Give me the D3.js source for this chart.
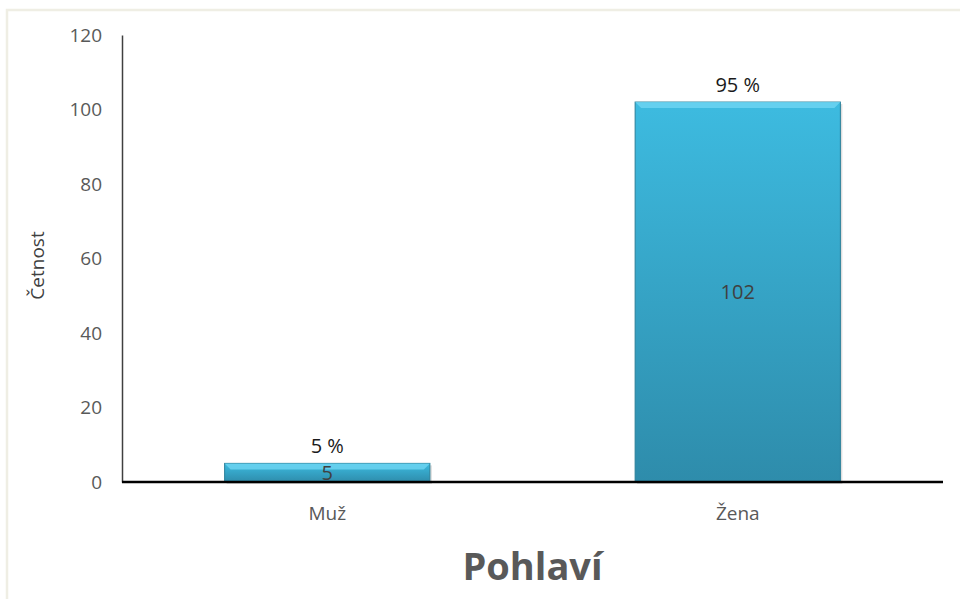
<!DOCTYPE html>
<html lang="cs">
<head>
<meta charset="utf-8">
<title>Pohlaví</title>
<script src="https://cdn.jsdelivr.net/npm/d3@7"></script>
<style>
	body { margin: 0; background: #fff; }
	text { font-family: "Open Sans", "Liberation Sans", sans-serif; }
	.tick text { fill: #595959; font-size: 19px; }
</style>
</head>
<body>
<div id="chart"></div>
<script>
	// data
	var categories = ["Muž", "Žena"];
	var counts = [5, 102];
	var percents = ["5 %", "95 %"];
	var yTicks = [0, 20, 40, 60, 80, 100, 120];

	var width = 960,
		height = 599;

	var svg = d3.select("#chart")
		.append("svg")
		.attr("width", width)
		.attr("height", height);

	var defs = svg.append("defs");
	var grad = defs.append("linearGradient")
		.attr("id", "barGrad")
		.attr("x1", 0).attr("y1", 0).attr("x2", 0).attr("y2", 1);
	grad.append("stop").attr("offset", "0%").attr("stop-color", "#3dbbe0");
	grad.append("stop").attr("offset", "100%").attr("stop-color", "#2e8cab");

	// outer frame
	svg.append("rect")
		.attr("x", 7).attr("y", 10)
		.attr("width", 980).attr("height", 620)
		.attr("fill", "none")
		.attr("stroke", "#efeee4")
		.attr("stroke-width", 2.5);

	var x = d3.scaleBand()
		.domain(categories)
		.range([122, 943])
		.paddingInner(0.5)
		.paddingOuter(0.25);

	var y = d3.scaleLinear()
		.domain([0, 120])
		.range([482, 35]);

	// y axis
	var yAxis = svg.append("g")
		.attr("transform", "translate(122,0)")
		.call(d3.axisLeft(y).tickValues(yTicks).tickSize(0).tickPadding(20));
	yAxis.select(".domain").attr("stroke", "#404040").attr("stroke-width", 1.5);

	svg.append("text")
		.attr("transform", "translate(44," + (y(60) + 7) + ") rotate(-90)")
		.attr("text-anchor", "middle")
		.attr("fill", "#404040")
		.attr("font-size", 19)
		.text("Četnost");

	// bars
	var data = categories.map(function (c, i) {
		return { cat: c, value: counts[i], pct: percents[i] };
	});

	var bar = svg.append("g").selectAll("g")
		.data(data)
		.enter().append("g");

	bar.append("rect")
		.attr("x", function (d) { return x(d.cat) + 2; })
		.attr("y", function (d) { return y(d.value) + 2; })
		.attr("width", x.bandwidth())
		.attr("height", function (d) { return y(0) - y(d.value); })
		.attr("fill", "#c8c8c8")
		.attr("opacity", 0.6);

	bar.append("rect")
		.attr("x", function (d) { return x(d.cat); })
		.attr("y", function (d) { return y(d.value); })
		.attr("width", x.bandwidth())
		.attr("height", function (d) { return y(0) - y(d.value); })
		.attr("fill", "url(#barGrad)")
		.attr("stroke", "#2a7f99")
		.attr("stroke-width", 1);

	// bevel highlight at top
	bar.append("polygon")
		.attr("points", function (d) {
			var x0 = x(d.cat), x1 = x0 + x.bandwidth(), t = y(d.value);
			var b = Math.min(6, (y(0) - t) / 2);
			return [[x0, t], [x1, t], [x1 - b, t + b], [x0 + b, t + b]].join(" ");
		})
		.attr("fill", "#6fd6f2")
		.attr("opacity", 0.8);

	// value labels inside bars
	bar.append("text")
		.attr("x", function (d) { return x(d.cat) + x.bandwidth() / 2; })
		.attr("y", function (d) { return (y(d.value) + y(0)) / 2 + 7; })
		.attr("text-anchor", "middle")
		.attr("fill", "#404040")
		.attr("font-size", 20)
		.text(function (d) { return d.value; });

	// percent labels above bars
	bar.append("text")
		.attr("x", function (d) { return x(d.cat) + x.bandwidth() / 2; })
		.attr("y", function (d) { return y(d.value) - 10; })
		.attr("text-anchor", "middle")
		.attr("fill", "#1a1a1a")
		.attr("font-size", 20)
		.text(function (d) { return d.pct; });

	// x axis
	var xAxis = svg.append("g")
		.attr("transform", "translate(0,482)")
		.call(d3.axisBottom(x).tickSize(0).tickPadding(25));
	xAxis.select(".domain").attr("stroke", "#000").attr("stroke-width", 2.5)
		.attr("d", "M122,0H943");

	svg.append("text")
		.attr("x", (122 + 943) / 2)
		.attr("y", 580)
		.attr("text-anchor", "middle")
		.attr("fill", "#595959")
		.attr("font-size", 38)
		.attr("font-weight", "bold")
		.text("Pohlaví");
</script>
</body>
</html>
